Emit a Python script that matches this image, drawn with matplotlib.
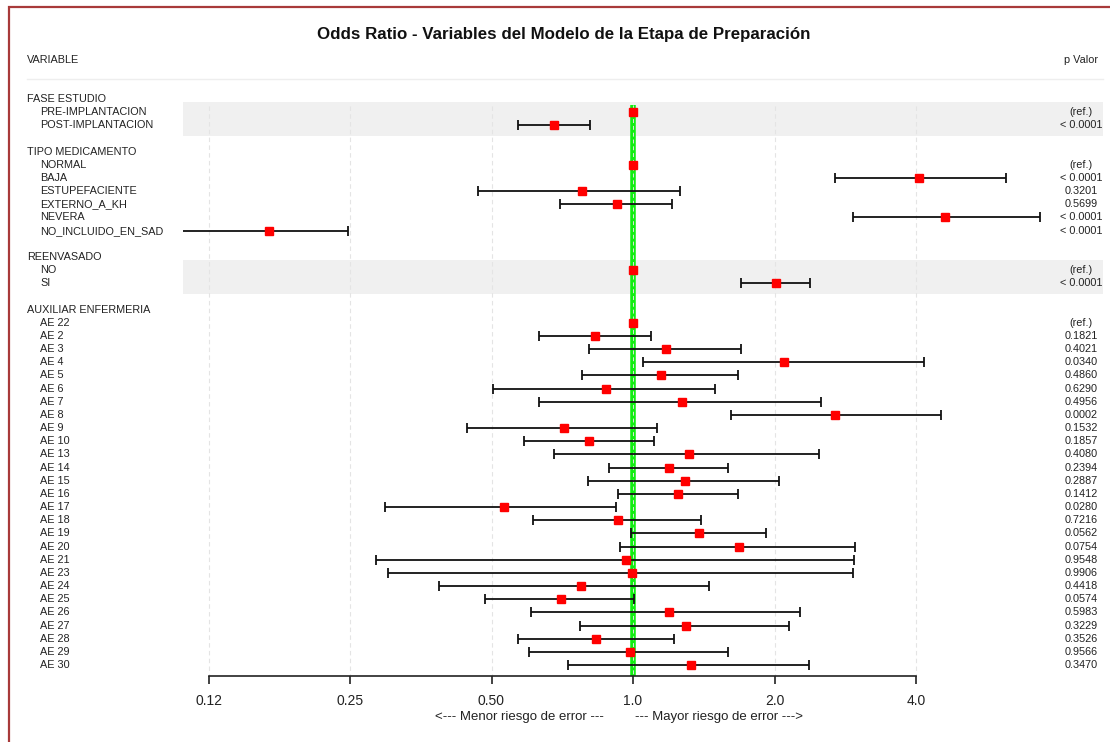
import numpy as np
import matplotlib
matplotlib.use("Agg")
import matplotlib.pyplot as plt
from matplotlib.transforms import blended_transform_factory
from matplotlib.patches import Rectangle
from matplotlib.lines import Line2D

plt.rcParams['font.family'] = ['Liberation Sans', 'DejaVu Sans']

title = "Odds Ratio - Variables del Modelo de la Etapa de Preparación"
groups = ["FASE ESTUDIO", "TIPO MEDICAMENTO", "REENVASADO", "AUXILIAR ENFERMERIA"]
shaded = [True, False, True, False]

levels = [
    ["PRE-IMPLANTACION", "POST-IMPLANTACION"],
    ["NORMAL", "BAJA", "ESTUPEFACIENTE", "EXTERNO_A_KH", "NEVERA", "NO_INCLUIDO_EN_SAD"],
    ["NO", "SI"],
    ["AE 22", "AE 2", "AE 3", "AE 4", "AE 5", "AE 6", "AE 7", "AE 8", "AE 9", "AE 10",
     "AE 13", "AE 14", "AE 15", "AE 16", "AE 17", "AE 18", "AE 19", "AE 20", "AE 21",
     "AE 23", "AE 24", "AE 25", "AE 26", "AE 27", "AE 28", "AE 29", "AE 30"],
]
odds = [
    [1.0, 0.679],
    [1.0, 4.06, 0.780, 0.926, 4.60, 0.168],
    [1.0, 2.01],
    [1.0, 0.830, 1.174, 2.10, 1.145, 0.876, 1.271, 2.69, 0.714, 0.806,
     1.314, 1.191, 1.288, 1.247, 0.532, 0.928, 1.382, 1.683, 0.968,
     0.994, 0.774, 0.702, 1.193, 1.294, 0.836, 0.987, 1.327],
]
ci_low = [
    [np.nan, 0.569],
    [np.nan, 2.69, 0.468, 0.699, 2.94, 0.110],
    [np.nan, 1.697],
    [np.nan, 0.631, 0.806, 1.05, 0.780, 0.503, 0.632, 1.616, 0.444, 0.585,
     0.679, 0.891, 0.803, 0.930, 0.297, 0.613, 0.992, 0.94, 0.284,
     0.301, 0.387, 0.484, 0.607, 0.773, 0.569, 0.600, 0.727],
]
ci_high = [
    [np.nan, 0.810],
    [np.nan, 6.23, 1.257, 1.212, 7.34, 0.248],
    [np.nan, 2.38],
    [np.nan, 1.092, 1.70, 4.17, 1.67, 1.495, 2.51, 4.52, 1.126, 1.108,
     2.49, 1.593, 2.04, 1.67, 0.918, 1.395, 1.918, 2.97, 2.95,
     2.94, 1.453, 1.007, 2.27, 2.15, 1.221, 1.595, 2.365],
]
p_values = [
    ["(ref.)", "< 0.0001"],
    ["(ref.)", "< 0.0001", "0.3201", "0.5699", "< 0.0001", "< 0.0001"],
    ["(ref.)", "< 0.0001"],
    ["(ref.)", "0.1821", "0.4021", "0.0340", "0.4860", "0.6290", "0.4956", "0.0002",
     "0.1532", "0.1857", "0.4080", "0.2394", "0.2887", "0.1412", "0.0280", "0.7216",
     "0.0562", "0.0754", "0.9548", "0.9906", "0.4418", "0.0574", "0.5983", "0.3229",
     "0.3526", "0.9566", "0.3470"],
]
ticks = [0.125, 0.25, 0.5, 1.0, 2.0, 4.0]
tick_labels = ["0.12", "0.25", "0.50", "1.0", "2.0", "4.0"]

W, H = 1110, 742
fig = plt.figure(figsize=(W / 100, H / 100), dpi=100)

def fx(px):
    return px / W

def fy(py):
    return 1 - py / H

# axes box in pixels: x 183..1103, y 79..676
ax = fig.add_axes([fx(183), fy(676), fx(1103) - fx(183), fy(79) - fy(676)])
ax.set_xscale('log', base=2)
px_per_doubling = 141.5
ax.set_xlim(2 ** ((183 - 633) / px_per_doubling), 2 ** ((1103 - 633) / px_per_doubling))
row_px = 13.163
ax.set_ylim((676 - 99) / row_px, (79 - 99) / row_px)

lab_tr = blended_transform_factory(fig.transFigure, ax.transData)
ax_x = blended_transform_factory(ax.transAxes, ax.transData)
fs = 7.8
txt_col = '#222222'

row = 0
for g, name in enumerate(groups):
    ax.text(fx(27), row, name, transform=lab_tr, ha='left', va='center', fontsize=fs, color=txt_col)
    first = row + 1
    for i, lev in enumerate(levels[g]):
        r = row + 1 + i
        ax.text(fx(40), r, lev, transform=lab_tr, ha='left', va='center', fontsize=fs, color=txt_col)
        ax.text(fx(1081), r, p_values[g][i], transform=lab_tr, ha='center', va='center',
                fontsize=fs, color=txt_col)
        if not np.isnan(ci_low[g][i]):
            ax.errorbar(odds[g][i], r,
                        xerr=[[odds[g][i] - ci_low[g][i]], [ci_high[g][i] - odds[g][i]]],
                        fmt='none', ecolor='#111111', elinewidth=1.3, capsize=3.3,
                        capthick=1.3, zorder=4)
        ax.plot(odds[g][i], r, 's', color='red', markersize=5.6, zorder=5)
    last = row + len(levels[g])
    if shaded[g]:
        ax.add_patch(Rectangle((0, first - 0.77), 1, last - first + 1.58, transform=ax_x,
                               facecolor='#f0f0f0', edgecolor='none', zorder=0))
    row = last + 2

# grid lines and reference line
ax.vlines(ticks, 0.5, ax.get_ylim()[0], colors='#e4e4e4', linestyles=(0, (4, 3)), lw=0.8, zorder=1)
ax.vlines(1.0, 0.45, ax.get_ylim()[0], colors='#11ee11', lw=4.0, zorder=2)
ax.vlines(1.0, 0.45, ax.get_ylim()[0], colors='#e0e0e0', linestyles=(0, (4, 3)), lw=0.7, zorder=3)

for s in ['top', 'left', 'right']:
    ax.spines[s].set_visible(False)
ax.spines['bottom'].set_bounds(ticks[0], ticks[-1])
ax.spines['bottom'].set_linewidth(1.2)
ax.spines['bottom'].set_color(txt_col)
ax.set_yticks([])
ax.set_xticks(ticks)
ax.set_xticklabels(tick_labels)
ax.xaxis.set_minor_locator(matplotlib.ticker.NullLocator())
ax.tick_params(axis='x', length=6, width=1.2, color=txt_col, pad=7, labelsize=10, labelcolor=txt_col)
ax.patch.set_visible(False)

# header
fig.text(fx(564), fy(34), title, ha='center', va='center', fontsize=12.2, fontweight='bold', color='#111111')
fig.text(fx(27), fy(60), "VARIABLE", ha='left', va='center', fontsize=fs, color=txt_col)
fig.text(fx(1081), fy(60), "p Valor", ha='center', va='center', fontsize=fs, color=txt_col)
fig.add_artist(Line2D([fx(27), fx(1103)], [fy(79), fy(79)], color='#eeeeee', lw=1.0))

# x-axis caption
fig.text(fx(604), fy(717), "<--- Menor riesgo de error ---", ha='right', va='center', fontsize=9.5, color=txt_col)
fig.text(fx(635), fy(717), "--- Mayor riesgo de error --->", ha='left', va='center', fontsize=9.5, color=txt_col)

# outer frame
fig.add_artist(Rectangle((fx(9), -0.2), 1.2, fy(7) + 0.2, transform=fig.transFigure,
                         fill=False, edgecolor='#a83a3a', lw=1.6))

fig.savefig("out.png", dpi=100)
